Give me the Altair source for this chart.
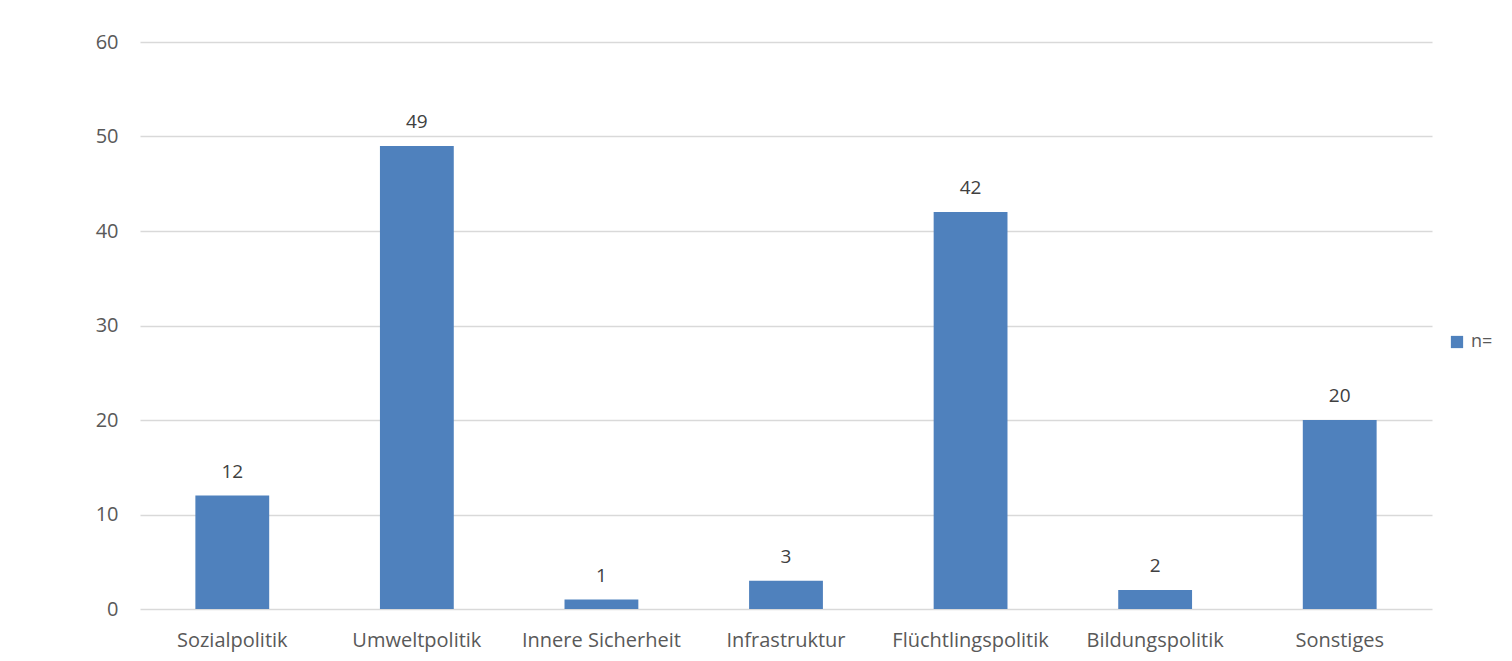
import altair as alt
import pandas as pd

categories = ["Sozialpolitik", "Umweltpolitik", "Innere Sicherheit", "Infrastruktur",
              "Flüchtlingspolitik", "Bildungspolitik", "Sonstiges"]
values = [12, 49, 1, 3, 42, 2, 20]
series_name = "n="
y_ticks = [0, 10, 20, 30, 40, 50, 60]

df = pd.DataFrame({"Thema": categories, "Anzahl": values, "Serie": [series_name] * len(categories)})

FONT = "Open Sans"
TXT = "#595959"
BLUE = "#4F81BD"

x = alt.X("Thema:N", sort=categories, title=None,
          scale=alt.Scale(paddingInner=0.6, paddingOuter=0.3),
          axis=alt.Axis(labelAngle=0, labelFontSize=20, labelColor=TXT, labelFont=FONT,
                        labelPadding=21, ticks=False, domain=False, grid=False))
y = alt.Y("Anzahl:Q", title=None,
          scale=alt.Scale(domain=[0, 60], nice=False),
          axis=alt.Axis(values=y_ticks, labelFontSize=20, labelColor=TXT, labelFont=FONT,
                        labelPadding=22, ticks=False, domain=False,
                        gridColor="#D9D9D9", gridWidth=1.5))

bars = alt.Chart(df).mark_bar(color=BLUE).encode(
    x=x, y=y,
    color=alt.Color("Serie:N", scale=alt.Scale(range=[BLUE]),
                    legend=alt.Legend(title=None, orient="none", legendX=1308, legendY=291,
                                      symbolType="square", symbolSize=150, labelOffset=5,
                                      labelFontSize=18, labelColor=TXT, labelFont=FONT,
                                      symbolStrokeWidth=0))
)

labels = alt.Chart(df).mark_text(dy=-14, fontSize=19, color="#404040", font=FONT, baseline="bottom").encode(
    x=alt.X("Thema:N", sort=categories),
    y="Anzahl:Q",
    text="Anzahl:Q"
)

chart = alt.layer(bars, labels).properties(
    width=1292, height=567,
    autosize=alt.AutoSizeParams(type="none"),
    padding={"left": 132, "top": 34, "right": 72, "bottom": 44},
    background="white",
).configure_view(stroke=None).configure_axis(domain=False, ticks=False)

chart.save("out.html", embed_options={"renderer": "svg", "actions": False})
